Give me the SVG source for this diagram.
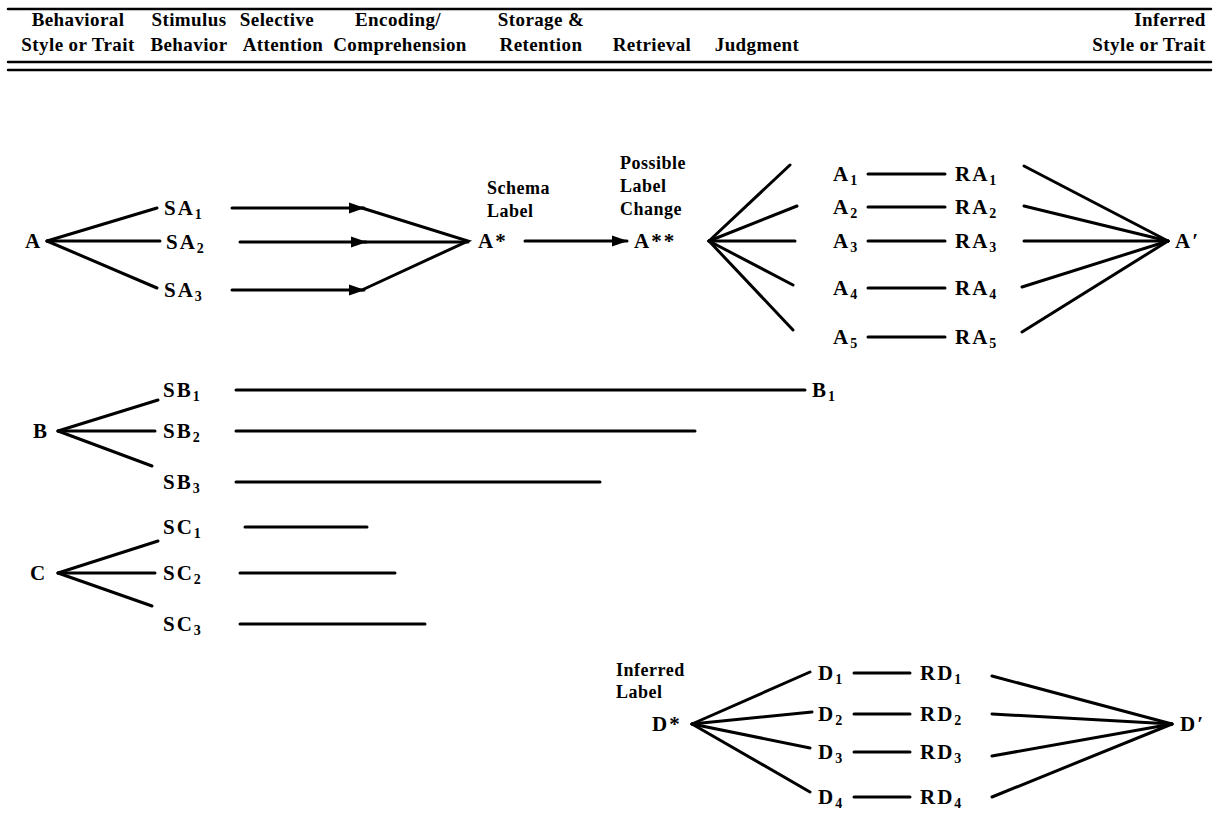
<svg xmlns="http://www.w3.org/2000/svg" width="1219" height="821" viewBox="0 0 1219 821">
<defs>
<marker id="arr" markerUnits="userSpaceOnUse" markerWidth="16" markerHeight="12" refX="15" refY="6" orient="auto">
<path d="M0,0.5 L16,6 L0,11.5 Z" fill="#000"/>
</marker>
<style>
text{font-family:"Liberation Serif","Times New Roman",serif;font-weight:bold;fill:#000}
.h{font-size:18px;letter-spacing:0.5px}
.hd{font-size:19px;text-anchor:middle;letter-spacing:0.4px}
.n{font-size:21px;letter-spacing:2px}
.s{font-size:14px;letter-spacing:0}
.rule{stroke:#000;stroke-width:2.5}
line,polyline{stroke:#000;stroke-width:3;fill:none;stroke-linecap:round}
</style>
</defs>
<rect width="1219" height="821" fill="#fff"/>
<g id="header">
<line class="rule" x1="8" y1="9" x2="1211" y2="9"/>
<line class="rule" x1="8" y1="62" x2="1211" y2="62"/>
<line class="rule" x1="8" y1="70" x2="1211" y2="70"/>
<text class="hd" x="78" y="26">Behavioral</text>
<text class="hd" x="78" y="51">Style or Trait</text>
<text class="hd" x="189" y="26">Stimulus</text>
<text class="hd" x="189" y="51">Behavior</text>
<text class="hd" x="277" y="26">Selective</text>
<text class="hd" x="283" y="51">Attention</text>
<text class="hd" x="398" y="26">Encoding/</text>
<text class="hd" x="400" y="51">Comprehension</text>
<text class="hd" x="541" y="26">Storage &amp;</text>
<text class="hd" x="541" y="51">Retention</text>
<text class="hd" x="652" y="51">Retrieval</text>
<text class="hd" x="757" y="51">Judgment</text>
<text class="hd" x="1170" y="26">Inferred</text>
<text class="hd" x="1149" y="51">Style or Trait</text>
</g>
<g id="node-A"><text class="n" x="25" y="248">A</text></g>
<g id="node-SA1"><text class="n" x="164" y="215">SA<tspan class="s" dy="4">1</tspan></text></g>
<g id="node-SA2"><text class="n" x="166" y="249">SA<tspan class="s" dy="4">2</tspan></text></g>
<g id="node-SA3"><text class="n" x="164" y="297">SA<tspan class="s" dy="4">3</tspan></text></g>
<g id="node-Astar">
<text class="h" x="487" y="194">Schema</text>
<text class="h" x="487" y="217">Label</text>
<text class="n" x="478" y="248">A*</text>
</g>
<g id="node-Astarstar">
<text class="h" x="620" y="169">Possible</text>
<text class="h" x="620" y="192">Label</text>
<text class="h" x="620" y="215">Change</text>
<text class="n" x="634" y="248">A**</text>
</g>
<g id="node-A1"><text class="n" x="833" y="181">A<tspan class="s" dy="4">1</tspan></text></g>
<g id="node-A2"><text class="n" x="833" y="214">A<tspan class="s" dy="4">2</tspan></text></g>
<g id="node-A3"><text class="n" x="833" y="248">A<tspan class="s" dy="4">3</tspan></text></g>
<g id="node-A4"><text class="n" x="833" y="295">A<tspan class="s" dy="4">4</tspan></text></g>
<g id="node-A5"><text class="n" x="833" y="344">A<tspan class="s" dy="4">5</tspan></text></g>
<g id="node-RA1"><text class="n" x="955" y="181">RA<tspan class="s" dy="4">1</tspan></text></g>
<g id="node-RA2"><text class="n" x="955" y="214">RA<tspan class="s" dy="4">2</tspan></text></g>
<g id="node-RA3"><text class="n" x="955" y="248">RA<tspan class="s" dy="4">3</tspan></text></g>
<g id="node-RA4"><text class="n" x="955" y="295">RA<tspan class="s" dy="4">4</tspan></text></g>
<g id="node-RA5"><text class="n" x="955" y="344">RA<tspan class="s" dy="4">5</tspan></text></g>
<g id="node-Aprime"><text class="n" x="1175" y="248">A′</text></g>
<g id="node-B"><text class="n" x="33" y="438">B</text></g>
<g id="node-SB1"><text class="n" x="163" y="397">SB<tspan class="s" dy="4">1</tspan></text></g>
<g id="node-SB2"><text class="n" x="163" y="438">SB<tspan class="s" dy="4">2</tspan></text></g>
<g id="node-SB3"><text class="n" x="163" y="489">SB<tspan class="s" dy="4">3</tspan></text></g>
<g id="node-B1"><text class="n" x="812" y="397">B<tspan class="s" dy="4">1</tspan></text></g>
<g id="node-C"><text class="n" x="30" y="580">C</text></g>
<g id="node-SC1"><text class="n" x="163" y="534">SC<tspan class="s" dy="4">1</tspan></text></g>
<g id="node-SC2"><text class="n" x="163" y="580">SC<tspan class="s" dy="4">2</tspan></text></g>
<g id="node-SC3"><text class="n" x="163" y="631">SC<tspan class="s" dy="4">3</tspan></text></g>
<g id="node-Dstar">
<text class="h" x="616" y="676">Inferred</text>
<text class="h" x="616" y="698">Label</text>
<text class="n" x="652" y="731">D*</text>
</g>
<g id="node-D1"><text class="n" x="818" y="680">D<tspan class="s" dy="4">1</tspan></text></g>
<g id="node-D2"><text class="n" x="818" y="721">D<tspan class="s" dy="4">2</tspan></text></g>
<g id="node-D3"><text class="n" x="818" y="759">D<tspan class="s" dy="4">3</tspan></text></g>
<g id="node-D4"><text class="n" x="818" y="804">D<tspan class="s" dy="4">4</tspan></text></g>
<g id="node-RD1"><text class="n" x="920" y="680">RD<tspan class="s" dy="4">1</tspan></text></g>
<g id="node-RD2"><text class="n" x="920" y="721">RD<tspan class="s" dy="4">2</tspan></text></g>
<g id="node-RD3"><text class="n" x="920" y="759">RD<tspan class="s" dy="4">3</tspan></text></g>
<g id="node-RD4"><text class="n" x="920" y="804">RD<tspan class="s" dy="4">4</tspan></text></g>
<g id="node-Dprime"><text class="n" x="1180" y="731">D′</text></g>
<g id="connectors">
<line x1="47" y1="241" x2="157" y2="208"/>
<line x1="47" y1="241" x2="160" y2="241"/>
<line x1="47" y1="241" x2="157" y2="288"/>
<line x1="232" y1="208" x2="364" y2="208" marker-end="url(#arr)"/>
<polyline points="362,208 468,241 362,290"/>
<line x1="240" y1="242" x2="366" y2="242" marker-end="url(#arr)"/>
<line x1="364" y1="242" x2="468" y2="242"/>
<line x1="232" y1="290" x2="364" y2="290" marker-end="url(#arr)"/>
<line x1="525" y1="241" x2="627" y2="241" marker-end="url(#arr)"/>
<line x1="709" y1="241" x2="790" y2="165"/>
<line x1="709" y1="241" x2="797" y2="206"/>
<line x1="709" y1="241" x2="795" y2="241"/>
<line x1="709" y1="241" x2="793" y2="285"/>
<line x1="709" y1="241" x2="793" y2="330"/>
<line x1="868" y1="174" x2="945" y2="174"/>
<line x1="868" y1="207" x2="945" y2="207"/>
<line x1="868" y1="241" x2="945" y2="241"/>
<line x1="868" y1="288" x2="945" y2="288"/>
<line x1="868" y1="337" x2="945" y2="337"/>
<line x1="1024" y1="166" x2="1168" y2="241"/>
<line x1="1024" y1="206" x2="1168" y2="241"/>
<line x1="1024" y1="241" x2="1168" y2="241"/>
<line x1="1022" y1="287" x2="1168" y2="241"/>
<line x1="1022" y1="332" x2="1168" y2="241"/>
<line x1="58" y1="431" x2="158" y2="400"/>
<line x1="58" y1="431" x2="155" y2="431"/>
<line x1="58" y1="431" x2="152" y2="466"/>
<line x1="236" y1="390" x2="805" y2="390"/>
<line x1="236" y1="431" x2="695" y2="431"/>
<line x1="236" y1="482" x2="600" y2="482"/>
<line x1="58" y1="573" x2="158" y2="541"/>
<line x1="58" y1="573" x2="155" y2="573"/>
<line x1="58" y1="573" x2="152" y2="606"/>
<line x1="245" y1="527" x2="367" y2="527"/>
<line x1="240" y1="573" x2="395" y2="573"/>
<line x1="240" y1="624" x2="425" y2="624"/>
<line x1="692" y1="724" x2="810" y2="672"/>
<line x1="692" y1="724" x2="812" y2="712"/>
<line x1="692" y1="724" x2="810" y2="748"/>
<line x1="692" y1="724" x2="810" y2="792"/>
<line x1="854" y1="673" x2="910" y2="673"/>
<line x1="854" y1="714" x2="910" y2="714"/>
<line x1="854" y1="752" x2="910" y2="752"/>
<line x1="854" y1="797" x2="910" y2="797"/>
<line x1="992" y1="676" x2="1172" y2="724"/>
<line x1="992" y1="714" x2="1172" y2="724"/>
<line x1="992" y1="756" x2="1172" y2="724"/>
<line x1="992" y1="797" x2="1172" y2="724"/>
</g>
</svg>
